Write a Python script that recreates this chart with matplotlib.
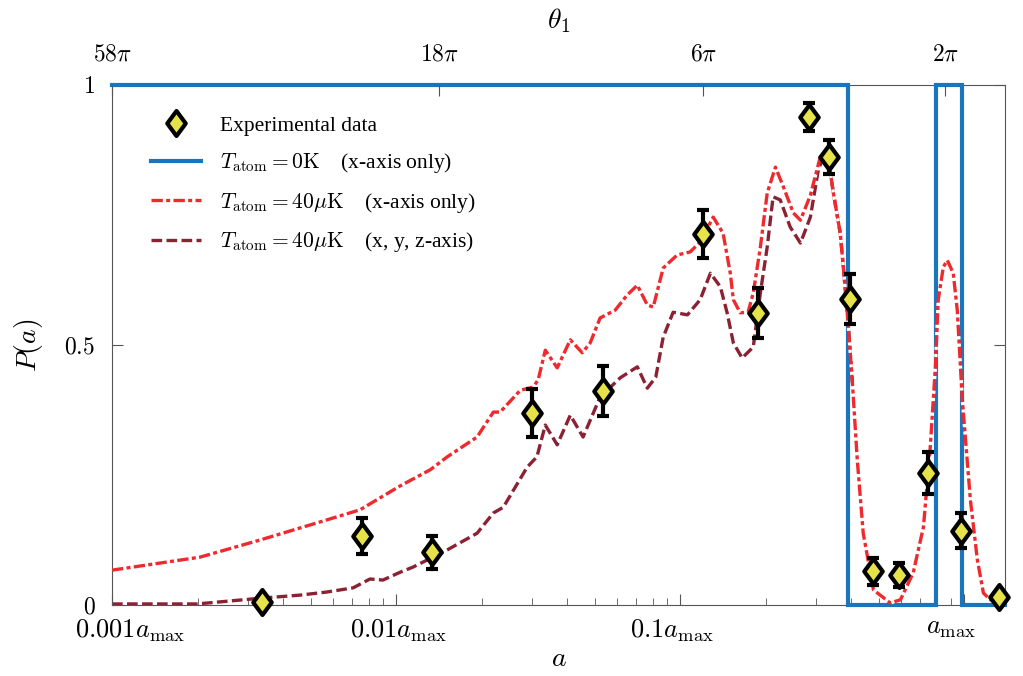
import numpy as np
import matplotlib
matplotlib.use("Agg")
import matplotlib.pyplot as plt
from matplotlib.path import Path
from matplotlib.lines import Line2D
from matplotlib.transforms import ScaledTranslation

plt.rcParams.update({
    "font.family": ["Liberation Serif", "DejaVu Serif"],
    "mathtext.fontset": "cm",
    "axes.linewidth": 0.8,
})

# ---- data (a in units of a_max) ----
exp_a = [0.00336, 0.00756, 0.01337, 0.03006, 0.05346, 0.1200, 0.1871, 0.2831,
         0.3326, 0.3945, 0.4753, 0.5888, 0.7447, 0.9727, 1.321]
exp_p = [0.006, 0.133, 0.101, 0.369, 0.412, 0.713, 0.561, 0.939,
         0.861, 0.588, 0.065, 0.058, 0.254, 0.143, 0.016]
exp_err = [0.004, 0.034, 0.031, 0.046, 0.048, 0.046, 0.048, 0.027,
           0.033, 0.048, 0.026, 0.023, 0.040, 0.034, 0.004]

# T = 0 K, ideal step
step_a = [0.001, 0.391, 0.796, 0.984, 1.39]
step_p = [1, 0, 1, 0, 0]

# T = 40 uK, x-axis only
red_a = [0.00100, 0.00204, 0.00332, 0.00527, 0.00746, 0.01033, 0.01318, 0.01514,
         0.01927, 0.02199, 0.02323, 0.02737, 0.03034, 0.03162, 0.03350, 0.03690,
         0.04102, 0.04519, 0.04819, 0.05224, 0.05902, 0.06501, 0.07063, 0.07656,
         0.08035, 0.08710, 0.09750, 0.1084, 0.1175, 0.1306, 0.1415, 0.1500,
         0.1538, 0.1626, 0.1733, 0.1807, 0.1914, 0.2023, 0.2163, 0.2307,
         0.2500, 0.2649, 0.2871, 0.3112, 0.3298, 0.3460, 0.3657, 0.3750,
         0.3873, 0.4036, 0.4198, 0.4406, 0.4786, 0.5483, 0.5957, 0.6607,
         0.7178, 0.7586, 0.7907, 0.8091, 0.8433, 0.8710, 0.9139, 0.9441,
         0.9838, 1.050, 1.111, 1.167, 1.235, 1.39]
red_p = [0.067, 0.092, 0.125, 0.158, 0.183, 0.229, 0.260, 0.285,
         0.323, 0.371, 0.371, 0.413, 0.419, 0.433, 0.490, 0.456,
         0.510, 0.485, 0.504, 0.552, 0.567, 0.596, 0.615, 0.577,
         0.573, 0.648, 0.673, 0.679, 0.698, 0.746, 0.715, 0.638,
         0.587, 0.562, 0.563, 0.600, 0.688, 0.792, 0.842, 0.804,
         0.754, 0.740, 0.788, 0.862, 0.869, 0.792, 0.715, 0.650,
         0.562, 0.427, 0.279, 0.138, 0.029, 0.004, 0.010, 0.062,
         0.150, 0.304, 0.458, 0.587, 0.650, 0.663, 0.638, 0.567,
         0.394, 0.202, 0.087, 0.023, 0.010, 0.006]

# T = 40 uK, x, y, z-axis
dark_a = [0.00100, 0.00199, 0.00332, 0.00459, 0.00571, 0.00706, 0.00809, 0.00899,
          0.01033, 0.01148, 0.01514, 0.01927, 0.02199, 0.02384, 0.02891, 0.03130,
          0.03350, 0.03690, 0.04102, 0.04550, 0.05224, 0.06152, 0.07063, 0.07656,
          0.08200, 0.08710, 0.0944, 0.1060, 0.1175, 0.1277, 0.1384, 0.1462,
          0.1538, 0.1651, 0.1807, 0.1914, 0.2023, 0.2122, 0.2249, 0.2437,
          0.2649, 0.2871, 0.3062, 0.3192, 0.3298, 0.3460, 0.3657, 0.3750,
          0.3873, 0.4036]
dark_p = [0.002, 0.002, 0.013, 0.019, 0.025, 0.033, 0.050, 0.048,
          0.063, 0.073, 0.106, 0.138, 0.177, 0.188, 0.265, 0.285,
          0.346, 0.308, 0.365, 0.323, 0.400, 0.437, 0.458, 0.417,
          0.438, 0.515, 0.563, 0.558, 0.587, 0.638, 0.612, 0.562,
          0.504, 0.475, 0.496, 0.600, 0.688, 0.785, 0.779, 0.727,
          0.696, 0.746, 0.837, 0.862, 0.869, 0.792, 0.715, 0.650,
          0.562, 0.427]

top_ticks = [0.001, 0.01417, 0.1205, 0.857]
top_labels = [r"$58\pi$", r"$18\pi$", r"$6\pi$", r"$2\pi$"]
bottom_ticks = [0.001, 0.01, 0.1, 1.0]
bottom_labels = [r"$0.001a_{\mathrm{max}}$", r"$0.01a_{\mathrm{max}}$",
                 r"$0.1a_{\mathrm{max}}$", r"$a_{\mathrm{max}}$"]

BLUE = "#1b75bc"
RED = "#ee2a2e"
DARK = "#8b2233"
YELLOW = "#e6e34a"

diamond = Path([(0, 1), (0.74, 0), (0, -1), (-0.74, 0), (0, 1)],
               [Path.MOVETO, Path.LINETO, Path.LINETO, Path.LINETO, Path.CLOSEPOLY])

fig = plt.figure(figsize=(10.23, 6.76), dpi=100)
ax = fig.add_axes([112 / 1023, 1 - 605 / 676, (1005 - 112) / 1023, (605 - 85) / 676])
ax.set_xscale("log")
ax.set_xlim(0.001, 1.39)
ax.set_ylim(0, 1)

ax.plot(dark_a, dark_p, color=DARK, lw=2.4, ls=(0, (3.2, 1.3)), zorder=2)
ax.plot(red_a, red_p, color=RED, lw=2.4, ls=(0, (3.4, 1.0, 1.2, 1.0)),
        gapcolor="white", zorder=4)
ax.step(step_a, step_p, where="post", color=BLUE, lw=3.0, zorder=3,
        clip_on=False, solid_joinstyle="miter")
ax.errorbar(exp_a, exp_p, yerr=exp_err, fmt="none", ecolor="black",
            elinewidth=3, capsize=4, capthick=3, zorder=5)
ax.plot(exp_a, exp_p, ls="none", marker=diamond, ms=18, mfc=YELLOW,
        mec="black", mew=3, zorder=6, clip_on=False)

# axes styling
for s in ax.spines.values():
    s.set_color("#555555")
ax.set_xticks(bottom_ticks)
ax.set_xticklabels(bottom_labels, fontsize=19)
ax.set_yticks([0, 0.5, 1])
ax.set_yticklabels([r"$0$", r"$0.5$", r"$1$"], fontsize=17)
ax.tick_params(which="both", direction="in", top=False, right=True, color="#555555")
ax.tick_params(which="major", length=8)
ax.tick_params(axis="y", pad=12)
ax.tick_params(axis="x", pad=9)
ax.tick_params(which="minor", length=5)
ax.set_xlabel(r"$a$", fontsize=20, labelpad=2)
ax.set_ylabel(r"$P(a)$", fontsize=20, labelpad=14)

# shift the outer labels a little, as in the original figure
shifts = [18, 2, -8, -13]
for lab, dx in zip(ax.get_xticklabels(), shifts):
    lab.set_transform(lab.get_transform() + ScaledTranslation(dx / 100, 0, fig.dpi_scale_trans))

ax2 = ax.twiny()
ax2.set_xscale("log")
ax2.set_xlim(ax.get_xlim())
ax2.set_xticks(top_ticks)
ax2.set_xticklabels(top_labels, fontsize=17)
ax2.xaxis.set_minor_locator(matplotlib.ticker.NullLocator())
ax2.tick_params(direction="in", length=8, color="#555555", pad=14)
for s in ax2.spines.values():
    s.set_visible(False)
ax2.set_xlabel(r"$\theta_1$", fontsize=20, labelpad=12)

handles = [
    Line2D([], [], ls="none", marker=diamond, ms=18, mfc=YELLOW, mec="black", mew=3),
    Line2D([], [], color=BLUE, lw=3),
    Line2D([], [], color=RED, lw=2.4, ls=(0, (3.4, 1.0, 1.2, 1.0))),
    Line2D([], [], color=DARK, lw=2.4, ls=(0, (3.2, 1.3))),
]
labels = [
    "Experimental data",
    r"$T_{\mathrm{atom}}=0\mathrm{K}$    (x-axis only)",
    r"$T_{\mathrm{atom}}=40\mu\mathrm{K}$    (x-axis only)",
    r"$T_{\mathrm{atom}}=40\mu\mathrm{K}$    (x, y, z-axis)",
]
ax.legend(handles, labels, loc="upper left", bbox_to_anchor=(0.022, 0.978),
          frameon=False, fontsize=15.5, handlelength=2.3, handletextpad=0.9,
          labelspacing=0.72)

fig.savefig("out.png", dpi=100)
